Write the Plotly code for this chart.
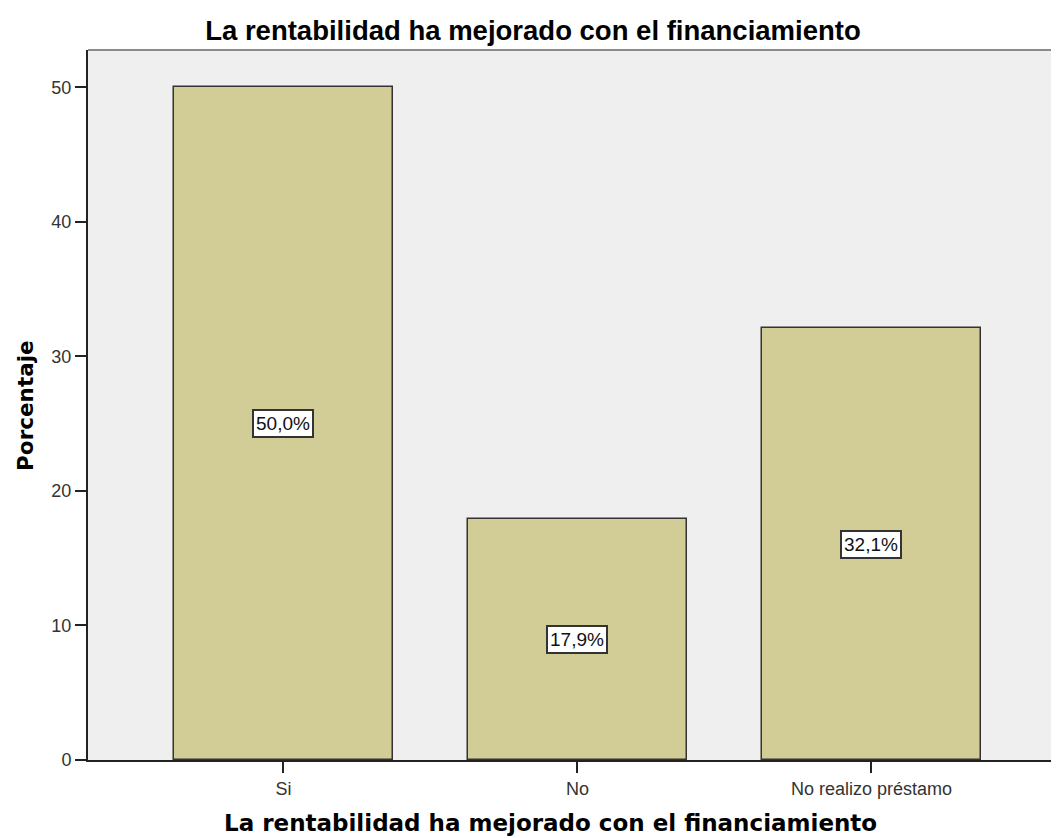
import plotly.graph_objects as go

categorias = ["Si", "No", "No realizo préstamo"]
porcentajes = [50.0, 17.9, 32.1]
etiquetas = ["50,0%", "17,9%", "32,1%"]

titulo = "La rentabilidad ha mejorado con el financiamiento"

fig = go.Figure()
fig.add_trace(go.Bar(
    x=categorias, y=porcentajes, width=0.742,
    marker=dict(color="#D2CD96", line=dict(color="#333333", width=1.5)),
    hoverinfo="skip",
))

# etiquetas en el centro de cada barra
for c, v, t in zip(categorias, porcentajes, etiquetas):
    fig.add_annotation(
        x=c, y=v / 2, text=t, showarrow=False,
        font=dict(family="Liberation Sans, Arial", size=19, color="#111111"),
        bgcolor="white", bordercolor="#333333", borderwidth=2, borderpad=2,
    )

# borde superior del area de grafico
fig.add_shape(type="line", xref="paper", yref="paper", x0=0, x1=1, y0=1, y1=1,
              line=dict(color="#8a8a8a", width=2))

fig.add_annotation(
    xref="paper", yref="paper", x=-0.065, y=0.5, text="<b>Porcentaje</b>",
    textangle=-90, showarrow=False, xanchor="center", yanchor="middle",
    font=dict(family="DejaVu Sans", size=21.5, color="#000000"),
)
fig.add_annotation(
    xref="paper", yref="paper", x=0.476, y=-0.0887, yanchor="middle",
    text="<b>" + titulo + "</b>",
    showarrow=False, font=dict(family="DejaVu Sans", size=23, color="#000000"),
)

fig.update_layout(
    width=1051, height=830,
    margin=dict(l=80, r=0, t=42, b=78),
    paper_bgcolor="white", plot_bgcolor="#EFEFEF",
    showlegend=False,
    title=dict(text="<b>" + titulo + "</b>", xref="container", yref="container",
               x=0.4995, xanchor="center", y=0.9735, yanchor="middle",
               font=dict(family="Liberation Sans, Arial", size=27.5, color="#000000")),
    bargap=0,
)
fig.update_xaxes(
    range=[-0.665, 2.638], showgrid=False, zeroline=False,
    showline=True, linecolor="#222222", linewidth=2,
    ticks="outside", ticklen=11, tickcolor="#222222", tickwidth=2,
    tickfont=dict(family="Liberation Sans, Arial", size=18, color="#333333"),
)
fig.update_yaxes(
    range=[0, 52.77], tickvals=[0, 10, 20, 30, 40, 50], showgrid=False, zeroline=False,
    showline=True, linecolor="#222222", linewidth=2,
    ticks="outside", ticklen=11, tickcolor="#222222", tickwidth=2,
    tickfont=dict(family="Liberation Sans, Arial", size=18, color="#333333"),
)

fig.write_html("out.html")
